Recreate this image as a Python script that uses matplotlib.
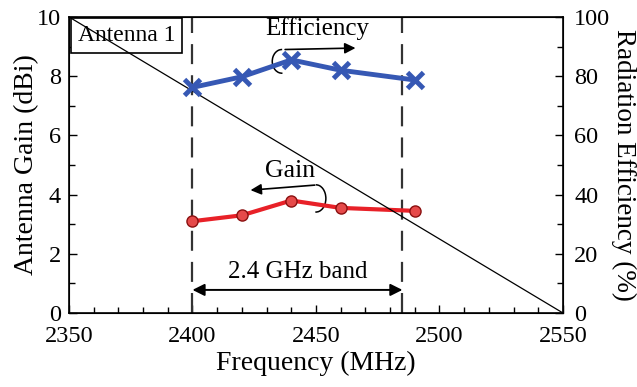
import numpy as np
import matplotlib
matplotlib.use("Agg")
import matplotlib.pyplot as plt
from matplotlib.patches import Arc

plt.rcParams['font.family'] = ['Liberation Serif', 'DejaVu Serif']
plt.rcParams['mathtext.fontset'] = 'stix'

# measured data
freq_gain = [2400, 2420, 2440, 2460, 2490]
gain = [3.1, 3.3, 3.8, 3.55, 3.45]
freq_eff = [2400, 2420, 2440, 2460, 2490]
efficiency = [76.2, 79.8, 85.5, 82.0, 78.7]
band = [2400, 2485]

fig = plt.figure(figsize=(6.37, 3.87), dpi=100)
ax = fig.add_axes([0.1083, 0.1912, 0.7755, 0.765])
ax2 = ax.twinx()

fs = 17.5
blue = '#3658b4'
red = '#e82128'

# gain curve (left axis)
ax.plot(freq_gain, gain, '-', color=red, lw=3, marker='o', ms=8,
        mfc='#e64a4a', mec='#8a1010', mew=1, zorder=5)

# efficiency curve (right axis)
ax2.plot(freq_eff, efficiency, '-', color=blue, lw=3.5, marker='x', ms=11,
         mew=3.5, zorder=5)

# diagonal line across the frame, drawn over the label box
ax.plot([0, 1], [1, 0], transform=ax.transAxes, color='black', lw=0.9, zorder=6)

# band edges
for f in band:
    ax.axvline(f, color='#333333', lw=1.6, dashes=(9, 5))

ax.annotate('', xy=(band[0], 0.78), xytext=(band[1], 0.78),
            arrowprops=dict(arrowstyle='<|-|>', color='black', lw=1.4,
                            mutation_scale=18, shrinkA=0, shrinkB=0))
ax.text(np.mean(band), 1.38, '2.4 GHz band', ha='center', va='center', fontsize=18)

# labels with pointers
ax.text(2450.5, 9.62, 'Efficiency', ha='center', va='center', fontsize=18)
ax.add_patch(Arc((2436.2, 8.5), 7.8, 0.8, theta1=75, theta2=300,
                 color='black', lw=1.1))
ax.annotate('', xy=(2466, 8.95), xytext=(2437.5, 8.9),
            arrowprops=dict(arrowstyle='-|>', color='black', lw=1.2,
                            mutation_scale=16, shrinkA=0, shrinkB=0))

ax.text(2439.5, 4.8, 'Gain', ha='center', va='center', fontsize=18.5)
ax.add_patch(Arc((2450, 3.87), 8.0, 0.92, theta1=-120, theta2=100,
                 color='black', lw=1.1))
ax.annotate('', xy=(2423.5, 4.15), xytext=(2449.5, 4.32),
            arrowprops=dict(arrowstyle='-|>', color='black', lw=1.2,
                            mutation_scale=16, shrinkA=0, shrinkB=0))

ax.text(0.018, 0.972, 'Antenna 1', transform=ax.transAxes, ha='left', va='top',
        fontsize=17, zorder=2,
        bbox=dict(boxstyle='square,pad=0.3', fc='white', ec='black', lw=1.2))

ax.set_xlim(2350, 2550)
ax.set_ylim(0, 10)
ax2.set_ylim(0, 100)
ax.set_xticks([2350, 2400, 2450, 2500, 2550])
ax.set_xticks(np.arange(2350, 2551, 10), minor=True)
ax.set_yticks([0, 2, 4, 6, 8, 10])
ax.set_yticks(np.arange(0, 11, 1), minor=True)
ax2.set_yticks([0, 20, 40, 60, 80, 100])
ax2.set_yticks(np.arange(0, 101, 10), minor=True)

ax.tick_params(axis='both', which='both', direction='in', labelsize=fs, width=1, top=False)
ax.tick_params(axis='x', which='major', pad=9)
ax.tick_params(axis='y', which='major', pad=6)
ax.tick_params(which='major', length=6)
ax.tick_params(which='minor', length=4)
ax2.tick_params(axis='y', which='both', direction='in', labelsize=fs, width=1, pad=8)
ax2.tick_params(which='major', length=6)
ax2.tick_params(which='minor', length=4)

ax.set_xlabel('Frequency (MHz)', fontsize=20, labelpad=3)
ax.set_ylabel('Antenna Gain (dBi)', fontsize=20, labelpad=-2)
ax2.set_ylabel('Radiation Efficiency (%)', fontsize=19.5, rotation=270, labelpad=19)

for s in ax.spines.values():
    s.set_linewidth(1.2)

fig.savefig('out.png', dpi=100)
